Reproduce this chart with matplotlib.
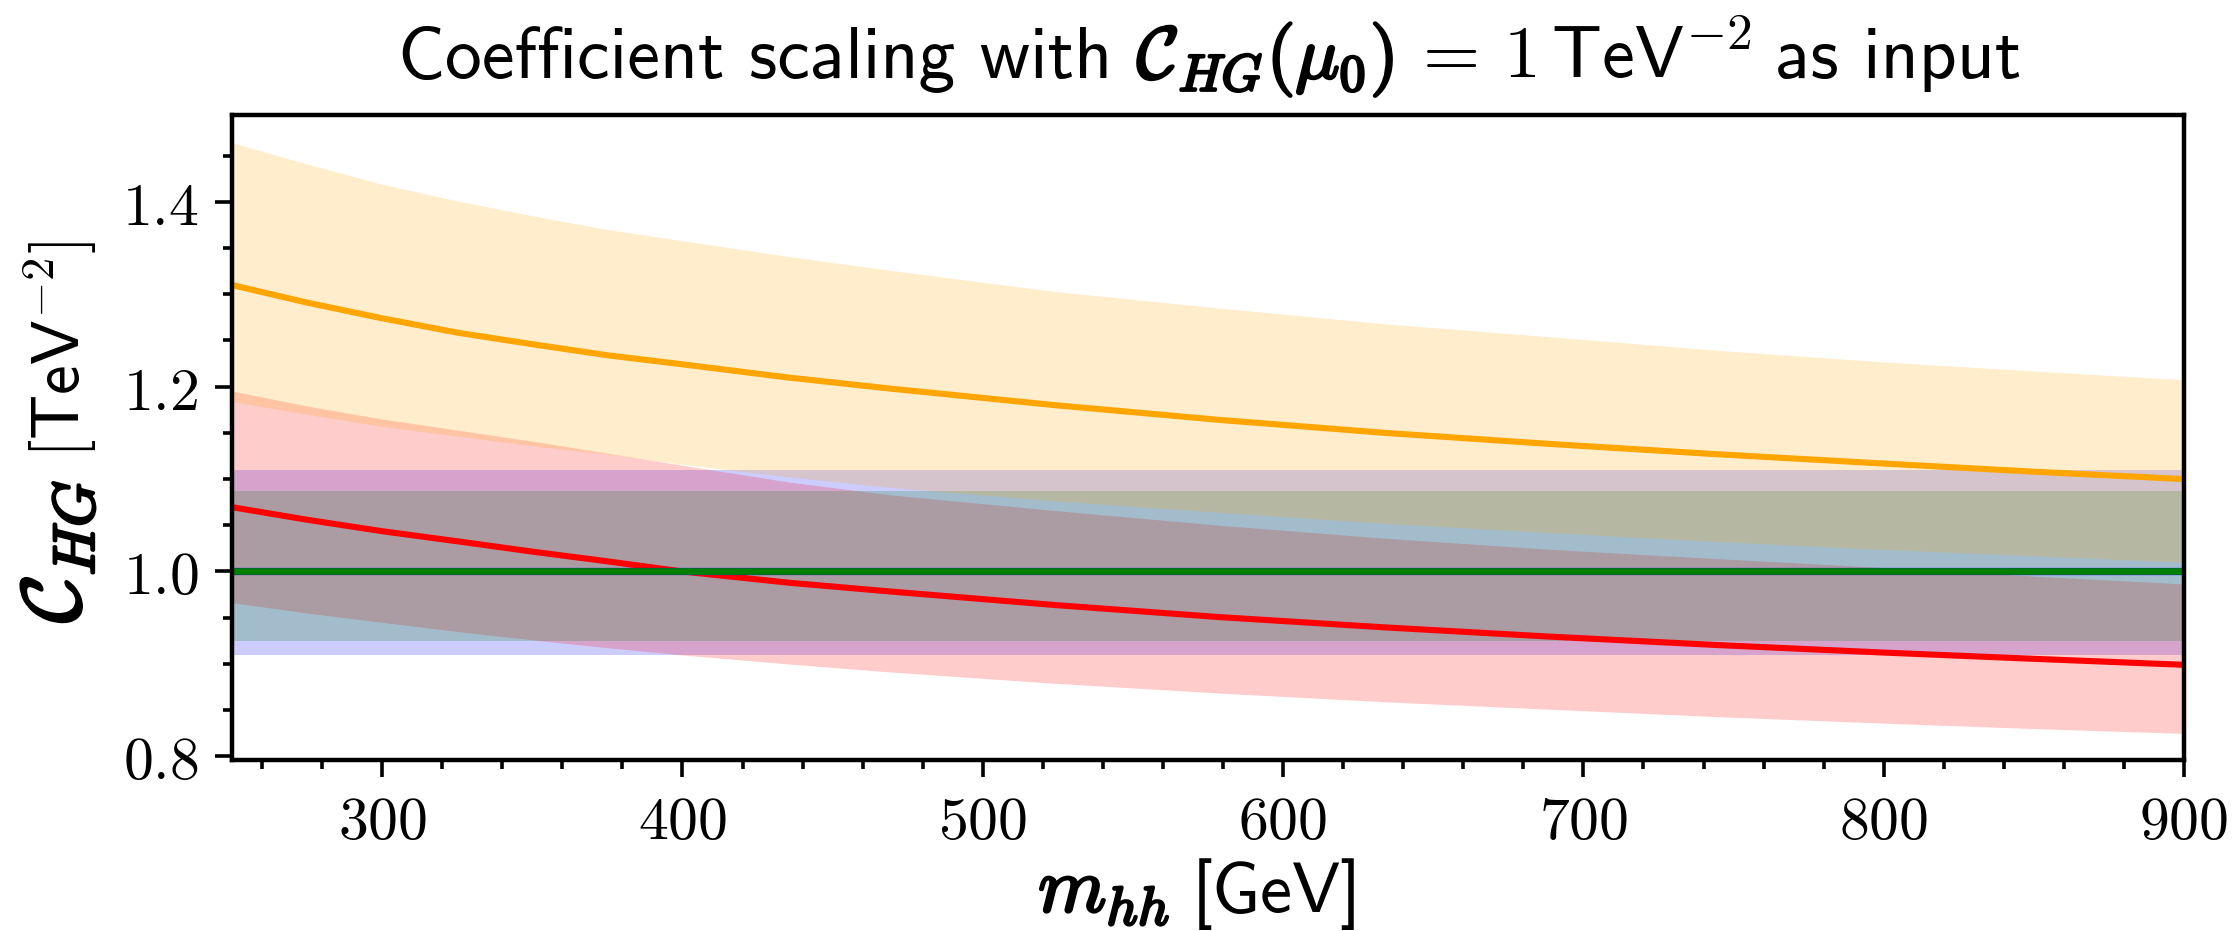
import numpy as np
import matplotlib
matplotlib.use("Agg")
import matplotlib.pyplot as plt
from matplotlib import patheffects as pe
from matplotlib.ticker import MultipleLocator, FuncFormatter

plt.rcParams["mathtext.fontset"] = "cm"

# m_hh grid [GeV]
m_hh = [250, 275, 300, 325, 350, 375, 400, 435, 469, 524, 579, 634, 689, 744, 799, 850, 900]

# running coefficient, orange scheme (central value and band edges)
orange_central = [1.310, 1.291, 1.274, 1.2585, 1.246, 1.234, 1.2242, 1.210, 1.198, 1.180,
                  1.164, 1.150, 1.138, 1.127, 1.117, 1.108, 1.100]
orange_upper = [1.464, 1.441, 1.419, 1.401, 1.385, 1.370, 1.358, 1.341, 1.326, 1.303,
                1.285, 1.268, 1.254, 1.2395, 1.227, 1.217, 1.2075]
orange_lower = [1.184, 1.170, 1.157, 1.1465, 1.136, 1.127, 1.116, 1.1025, 1.091, 1.0765,
                1.064, 1.052, 1.042, 1.0325, 1.024, 1.017, 1.010]

# running coefficient, red scheme
red_central = [1.0696, 1.056, 1.0436, 1.0327, 1.0215, 1.011, 1.000, 0.988, 0.9784, 0.9637,
               0.9506, 0.9395, 0.9295, 0.9205, 0.9124, 0.9055, 0.899]
red_upper = [1.1953, 1.179, 1.165, 1.153, 1.141, 1.128, 1.1150, 1.097, 1.083, 1.066,
             1.050, 1.036, 1.024, 1.014, 1.0045, 0.995, 0.9865]
red_lower = [0.9663, 0.955, 0.945, 0.935, 0.926, 0.9175, 0.9097, 0.900, 0.8913, 0.879,
             0.8684, 0.859, 0.8509, 0.843, 0.836, 0.830, 0.8248]

# fixed-scale input and its bands
input_value = 1.0
blue_band = (0.9093, 1.110)
green_band = (0.9245, 1.0876)

x_range = (250, 900)

W, H, DPI = 2234, 931, 200
fig = plt.figure(figsize=(W / DPI, H / DPI), dpi=DPI)
ax = fig.add_axes([232 / W, 1 - 760 / H, (2184 - 232) / W, (760 - 115) / H])

xs = np.array(x_range)
ax.fill_between(xs, blue_band[0], blue_band[1], color="blue", alpha=0.2, linewidth=0)
ax.fill_between(m_hh, red_lower, red_upper, color="red", alpha=0.2, linewidth=0)
ax.fill_between(xs, green_band[0], green_band[1], color="green", alpha=0.2, linewidth=0)
ax.fill_between(m_hh, orange_lower, orange_upper, color="orange", alpha=0.2, linewidth=0)

ax.plot(m_hh, orange_central, color="orange", lw=2.2)
ax.plot(m_hh, red_central, color="red", lw=2.2)
ax.plot(xs, [input_value, input_value], color="blue", lw=2.6)
ax.plot(xs, [input_value, input_value], color="green", lw=2.4)

ax.set_xlim(*x_range)
ax.set_ylim(0.796, 1.494)

ax.xaxis.set_major_locator(MultipleLocator(100))
ax.xaxis.set_minor_locator(MultipleLocator(20))
ax.yaxis.set_major_locator(MultipleLocator(0.2))
ax.yaxis.set_minor_locator(MultipleLocator(0.05))
ax.xaxis.set_major_formatter(FuncFormatter(lambda v, p: r"$%d$" % round(v)))
ax.yaxis.set_major_formatter(FuncFormatter(lambda v, p: r"$%.1f$" % v))

ax.tick_params(which="both", direction="out", top=False, right=False, width=1.3)
ax.tick_params(which="major", length=6, labelsize=21.5, pad=6)
ax.tick_params(which="minor", length=3.2)
for sp in ax.spines.values():
    sp.set_linewidth(1.6)

BOLD = [pe.withStroke(linewidth=1.0, foreground="black")]
SANS = "cmss10"


def text_row(pieces, anchor, rotation=0):
    """Lay out text pieces along one baseline, centred on anchor (pixels)."""
    renderer = fig.canvas.get_renderer()
    objs, advances = [], []
    for s, fs, bold, gap in pieces:
        kw = dict(fontsize=fs, ha="left", va="baseline", rotation_mode="anchor")
        if not s.startswith("$"):
            kw["family"] = SANS
        t = fig.text(0, 0, s, **kw)
        if bold:
            t.set_path_effects(BOLD)
        w = t.get_window_extent(renderer).width
        objs.append(t)
        advances.append(w + gap)
    total = sum(advances) - pieces[-1][3]
    pos = -total / 2
    for t, adv in zip(objs, advances):
        if rotation == 0:
            t.set_position(((anchor[0] + pos) / W, anchor[1] / H))
        else:
            t.set_position((anchor[0] / W, (anchor[1] + pos) / H))
            t.set_rotation(rotation)
        pos += adv


text_row([("Coefficient scaling with", 26.5, False, 24),
          (r"$\mathcal{C}_{HG}(\mu_0)$", 26.5, True, 16),
          (r"$=\,1\,\mathsf{TeV}^{-2}$", 26.5, False, 24),
          ("as input", 26.5, False, 0)],
         anchor=(1210, H - 78))

text_row([(r"$m_{hh}$", 28, True, 22),
          ("[GeV]", 26, False, 0)],
         anchor=(1200, 19))

text_row([(r"$\mathcal{C}_{HG}$", 30, True, 22),
          (r"$\mathsf{[TeV}^{-2}\mathsf{]}$", 24, False, 0)],
         anchor=(80, 499), rotation=90)

fig.savefig("out.png", dpi=DPI)
